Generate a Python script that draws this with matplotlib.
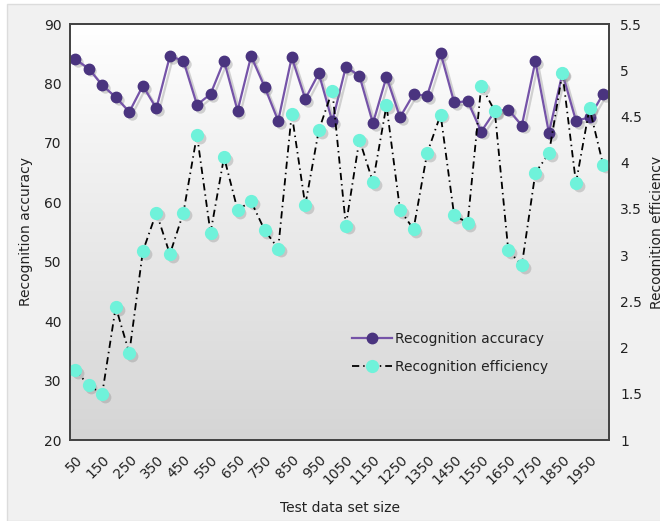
import numpy as np
import matplotlib
matplotlib.use('Agg')
import matplotlib.pyplot as plt
from matplotlib.transforms import ScaledTranslation
from matplotlib.patches import Rectangle

# test data set sizes
sizes = [50, 100, 150, 200, 250, 300, 350, 400, 450, 500,
         550, 600, 650, 700, 750, 800, 850, 900, 950, 1000,
         1050, 1100, 1150, 1200, 1250, 1300, 1350, 1400, 1450, 1500,
         1550, 1600, 1650, 1700, 1750, 1800, 1850, 1900, 1950, 2000]

accuracy = [84.1, 82.5, 79.7, 77.7, 75.2, 79.6, 75.8, 84.6, 83.8, 76.4,
            78.2, 83.8, 75.4, 84.6, 79.4, 73.7, 84.4, 77.4, 81.7, 73.6,
            82.8, 81.3, 73.3, 81.1, 74.3, 78.2, 77.9, 85.1, 76.8, 77.0,
            71.9, 75.3, 75.6, 72.9, 83.7, 71.7, 81.7, 73.7, 74.3, 78.2]

efficiency = [1.76, 1.59, 1.50, 2.44, 1.94, 3.04, 3.46, 3.01, 3.46, 4.30,
              3.24, 4.06, 3.49, 3.58, 3.27, 3.07, 4.53, 3.54, 4.35, 4.78,
              3.32, 4.25, 3.79, 4.62, 3.49, 3.28, 4.10, 4.52, 3.43, 3.35,
              4.83, 4.56, 3.05, 2.89, 3.89, 4.10, 4.97, 3.78, 4.59, 3.98]

xticks = [50, 150, 250, 350, 450, 550, 650, 750, 850, 950,
          1050, 1150, 1250, 1350, 1450, 1550, 1650, 1750, 1850, 1950]
acc_ticks = [20, 30, 40, 50, 60, 70, 80, 90]
eff_ticks = [1, 1.5, 2, 2.5, 3, 3.5, 4, 4.5, 5, 5.5]
eff_ticklabels = ['1', '1.5', '2', '2.5', '3', '3.5', '4', '4.5', '5', '5.5']

purple_line = '#7553a8'
purple_dot = '#4a347f'
cyan = '#6ff2da'
textcol = '#222222'

plt.rcParams['font.family'] = 'DejaVu Sans'
plt.rcParams['font.size'] = 10

fig = plt.figure(figsize=(6.6, 5.21), dpi=100, facecolor='white')
fig.patches.append(Rectangle((7/660, 0), 1, 1 - 4/521, transform=fig.transFigure,
                             facecolor='#f1f1f1', edgecolor='#dcdcdc', lw=1, zorder=-10))

ax = fig.add_axes([70/660, 81/521, 539/660, 416/521])
ax.set_facecolor('none')

# gradient plot background
grad = np.linspace(1, 0, 256).reshape(-1, 1)
ax.imshow(grad, extent=[0, 1, 0, 1], transform=ax.transAxes, aspect='auto',
          cmap=matplotlib.colors.LinearSegmentedColormap.from_list('g', ['#d5d5d5', '#ffffff']),
          zorder=-5)

shadow = ScaledTranslation(2/72, -2/72, fig.dpi_scale_trans)

ax.plot(sizes, accuracy, color='#888888', alpha=0.35, lw=1.6, marker='o', ms=7.5,
        mec='none', transform=ax.transData + shadow, zorder=1)
l1, = ax.plot(sizes, accuracy, color=purple_line, lw=1.6, marker='o', ms=7.5,
              mfc=purple_dot, mec=purple_dot, zorder=2, label='Recognition accuracy')

ax.set_xlim(31, 2022)
ax.set_ylim(20, 90)
ax.set_yticks(acc_ticks)
ax.set_xticks(xticks)
ax.set_xticklabels([str(t) for t in xticks], rotation=45, ha='right',
                   rotation_mode='anchor')
ax.tick_params(length=0, pad=6, colors=textcol, labelsize=10)
ax.tick_params(axis='x', pad=9)
ax.set_ylabel('Recognition accuracy', color=textcol, labelpad=8)
ax.set_xlabel('Test data set size', color=textcol, labelpad=10)
for s in ax.spines.values():
    s.set_color('#444444')
    s.set_linewidth(1.3)

ax2 = ax.twinx()
ax2.plot(sizes, efficiency, color='#888888', alpha=0.35, lw=0, marker='o', ms=8.5,
         mec='none', transform=ax2.transData + shadow, zorder=1)
l2, = ax2.plot(sizes, efficiency, color='black', lw=1.3, dashes=(4, 2.2, 0.8, 2.2),
               marker='o', ms=8.5, mfc=cyan, mec=cyan, zorder=2,
               label='Recognition efficiency')
ax2.set_ylim(1, 5.5)
ax2.set_yticks(eff_ticks)
ax2.set_yticklabels(eff_ticklabels)
ax2.tick_params(length=0, pad=8, colors=textcol, labelsize=10)
ax2.set_ylabel('Recognition efficiency', color=textcol, labelpad=6)
for s in ax2.spines.values():
    s.set_color('#444444')
    s.set_linewidth(1.3)

ax2.legend(handles=[l1, l2], loc='upper left', bbox_to_anchor=(0.5, 0.29),
           frameon=False, handlelength=2.9, handletextpad=0.2, labelspacing=1.0,
           fontsize=10, labelcolor=textcol)

fig.savefig('out.png', dpi=100, facecolor=fig.get_facecolor())
